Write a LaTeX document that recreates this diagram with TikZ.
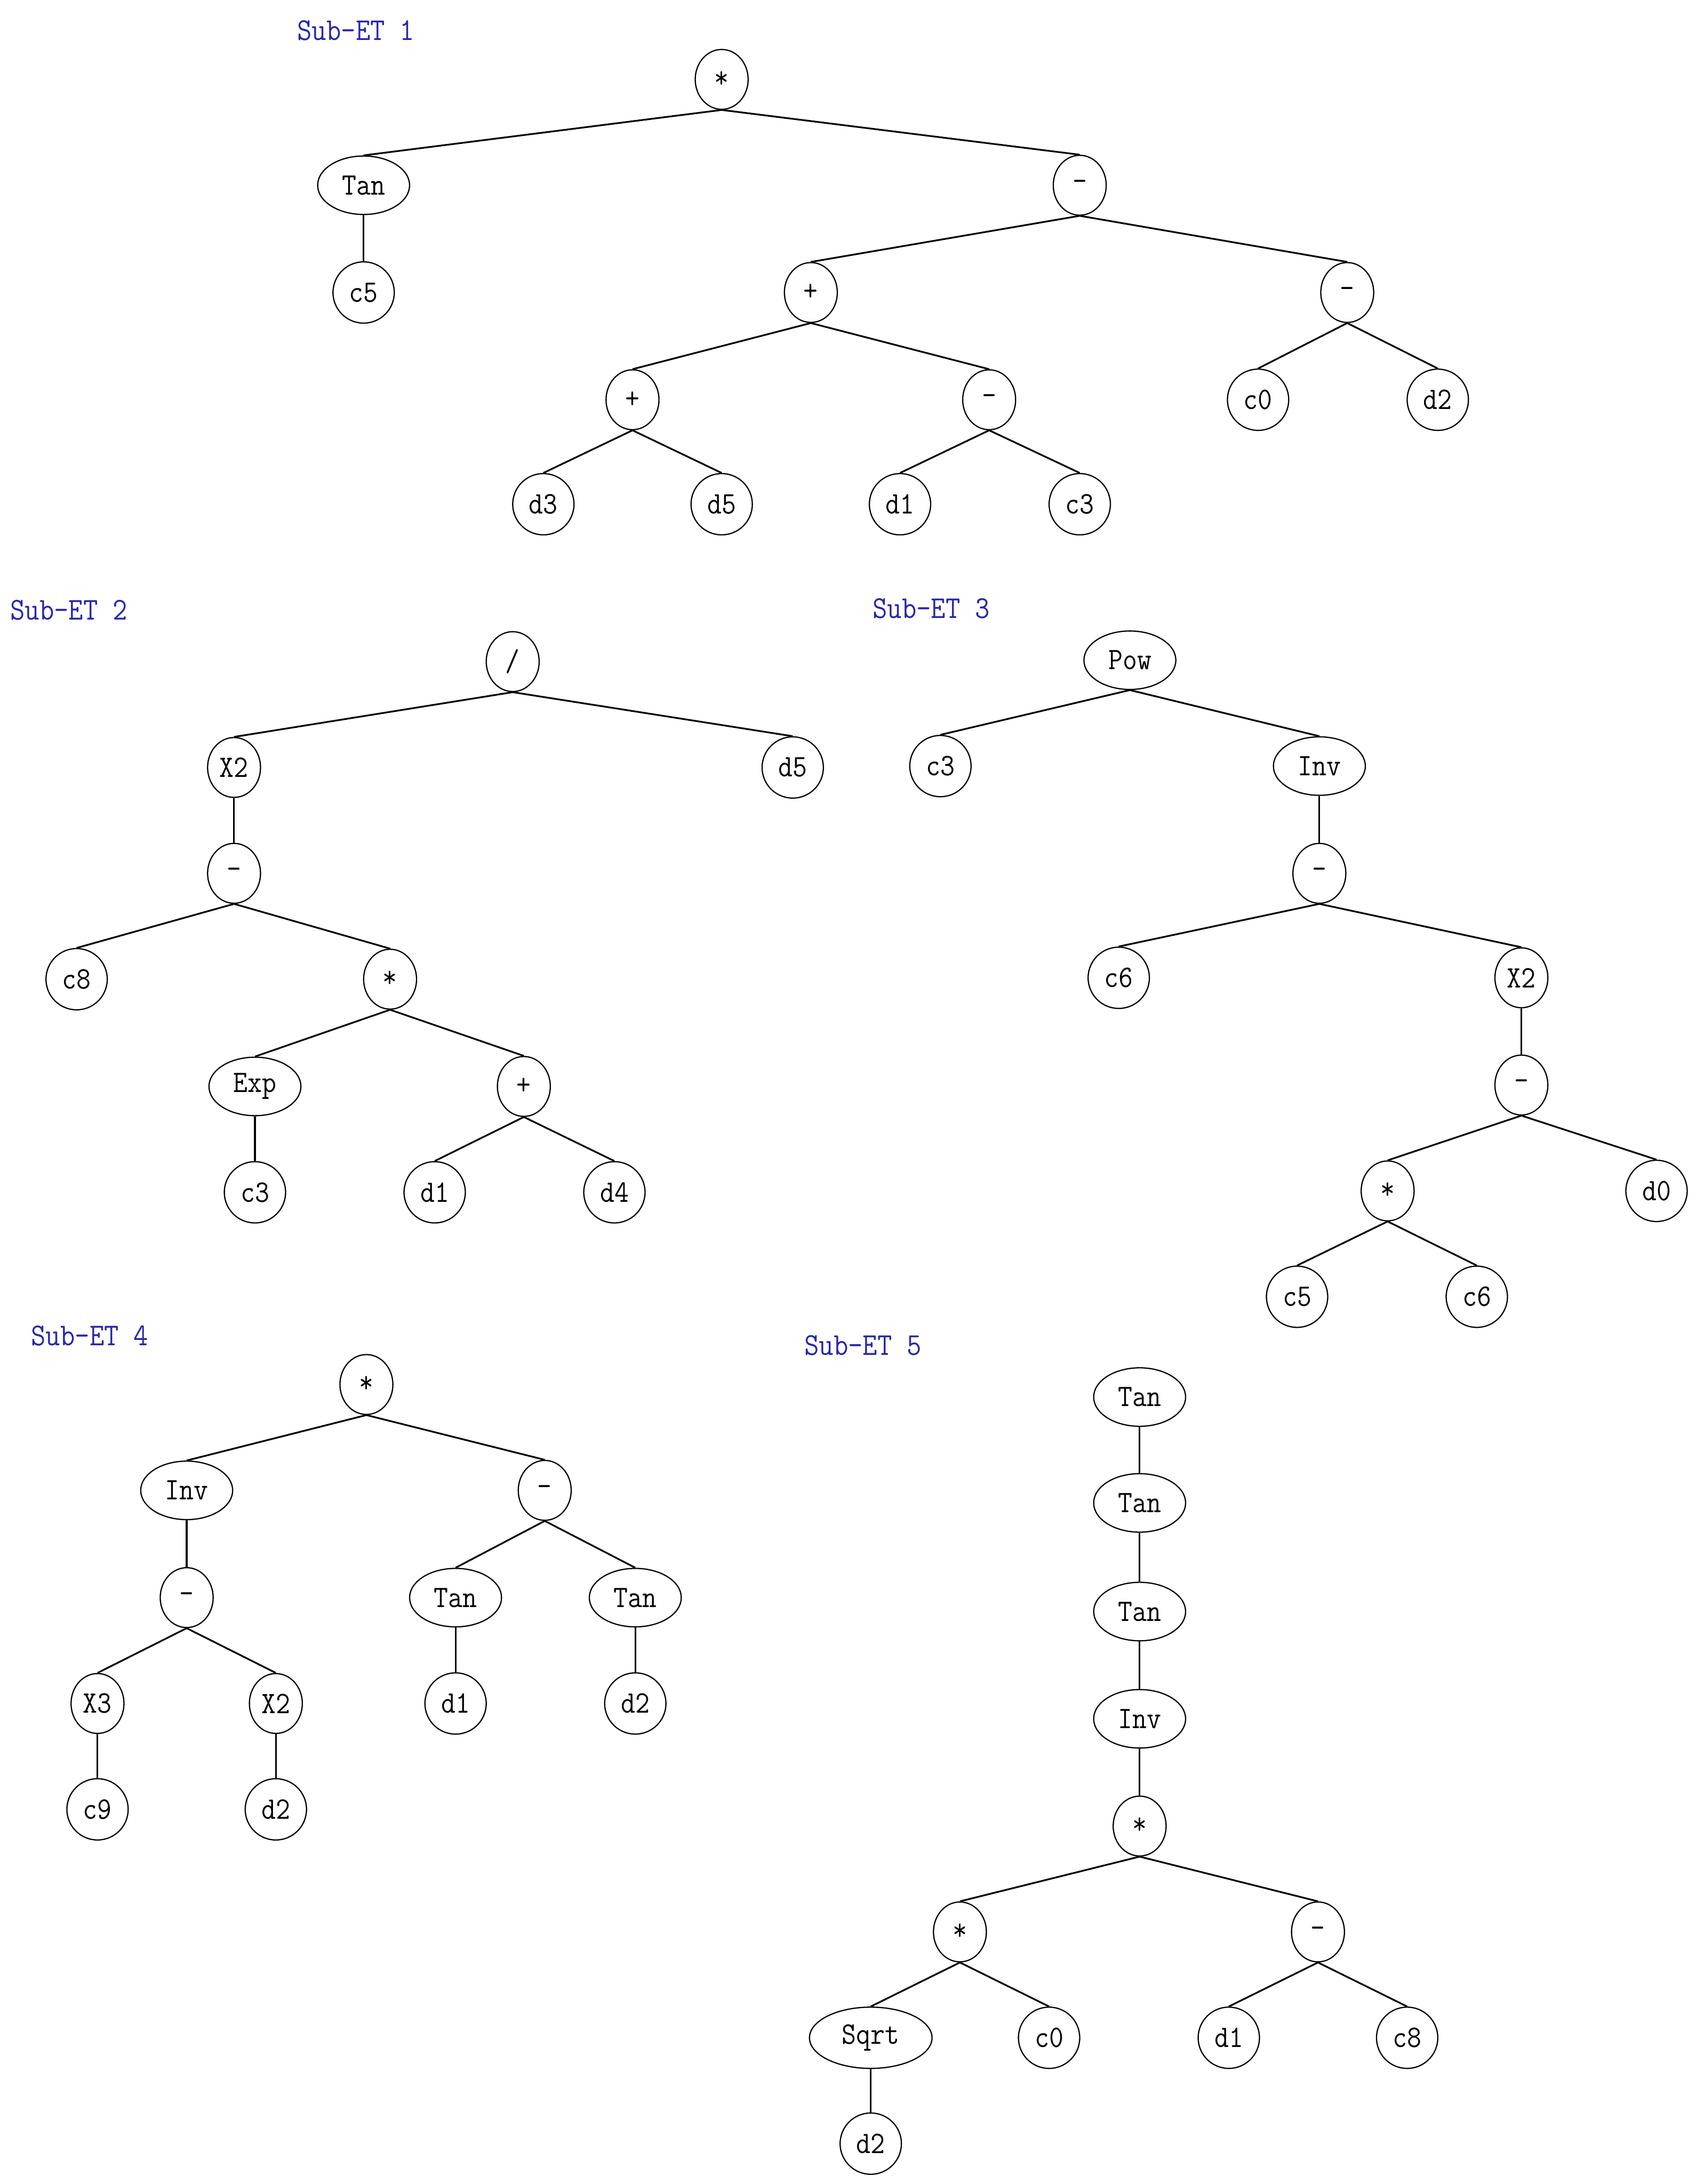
\documentclass[tikz,border=0pt]{standalone}
\usepackage{fontspec}
\usepackage{graphicx}
\usetikzlibrary{shapes.geometric}
\definecolor{labblue}{RGB}{40,40,170}
\newcommand{\vs}[1]{\scalebox{1}[1.12]{#1}}
\tikzset{
  base/.style={ellipse, draw, line width=0.5pt, inner sep=0pt, font=\ttfamily\fontsize{11.4}{13}\selectfont},
  leaf/.style={base, minimum width=0.88cm, minimum height=0.88cm},
  op/.style={base, minimum width=0.76cm, minimum height=0.86cm},
  fn/.style={base, minimum width=1.32cm, minimum height=0.84cm},
  wide/.style={base, minimum width=1.76cm, minimum height=0.88cm},
  edge/.style={line width=0.7pt},
  title/.style={anchor=west, inner sep=0pt, text=labblue, font=\ttfamily\fontsize{11.6}{13}\selectfont}
}
\begin{document}
\begin{tikzpicture}[x=0.02cm,y=-0.02cm]
\fill[white] (0,0) rectangle (1223,1568);
\useasboundingbox (0,0) rectangle (1223,1568);

% ---------- Sub-ET 1 ----------
\node[title] (L1) at (213,22) {\vs{Sub-ET 1}};
\node[op]   (a1)  at (518,57)  {\vs{*}};
\node[fn]   (a2)  at (261,133) {\vs{Tan}};
\node[op]   (a3)  at (775,133) {\vs{-}};
\node[leaf] (a4)  at (261,210) {\vs{c5}};
\node[op]   (a5)  at (582,210) {\vs{+}};
\node[op]   (a6)  at (967,210) {\vs{-}};
\node[op]   (a7)  at (454,287) {\vs{+}};
\node[op]   (a8)  at (710,287) {\vs{-}};
\node[leaf] (a9)  at (903,287) {\vs{c0}};
\node[leaf] (a10) at (1032,287) {\vs{d2}};
\node[leaf] (a11) at (390,362) {\vs{d3}};
\node[leaf] (a12) at (518,362) {\vs{d5}};
\node[leaf] (a13) at (646,362) {\vs{d1}};
\node[leaf] (a14) at (775,362) {\vs{c3}};
\draw[edge] (a1.south) -- (a2.north);
\draw[edge] (a1.south) -- (a3.north);
\draw[edge] (a2.south) -- (a4.north);
\draw[edge] (a3.south) -- (a5.north);
\draw[edge] (a3.south) -- (a6.north);
\draw[edge] (a5.south) -- (a7.north);
\draw[edge] (a5.south) -- (a8.north);
\draw[edge] (a6.south) -- (a9.north);
\draw[edge] (a6.south) -- (a10.north);
\draw[edge] (a7.south) -- (a11.north);
\draw[edge] (a7.south) -- (a12.north);
\draw[edge] (a8.south) -- (a13.north);
\draw[edge] (a8.south) -- (a14.north);

% ---------- Sub-ET 2 ----------
\node[title] (L2) at (7,438) {\vs{Sub-ET 2}};
\node[op]   (b1)  at (368,475) {\vs{/}};
\node[op]   (b2)  at (168,551) {\vs{X2}};
\node[leaf] (b3)  at (569,551) {\vs{d5}};
\node[op]   (b4)  at (168,627) {\vs{-}};
\node[leaf] (b5)  at (55,703)  {\vs{c8}};
\node[op]   (b6)  at (280,703) {\vs{*}};
\node[fn]   (b7)  at (183,780) {\vs{Exp}};
\node[op]   (b8)  at (376,780) {\vs{+}};
\node[leaf] (b9)  at (183,856) {\vs{c3}};
\node[leaf] (b10) at (312,856) {\vs{d1}};
\node[leaf] (b11) at (441,856) {\vs{d4}};
\draw[edge] (b1.south) -- (b2.north);
\draw[edge] (b1.south) -- (b3.north);
\draw[edge] (b2.south) -- (b4.north);
\draw[edge] (b4.south) -- (b5.north);
\draw[edge] (b4.south) -- (b6.north);
\draw[edge] (b6.south) -- (b7.north);
\draw[edge] (b6.south) -- (b8.north);
\draw[edge] (b7.south) -- (b9.north);
\draw[edge] (b8.south) -- (b10.north);
\draw[edge] (b8.south) -- (b11.north);

% ---------- Sub-ET 3 ----------
\node[title] (L3) at (626,437) {\vs{Sub-ET 3}};
\node[fn]   (c1)  at (811,474) {\vs{Pow}};
\node[leaf] (c2)  at (675,550) {\vs{c3}};
\node[fn]   (c3)  at (947,550) {\vs{Inv}};
\node[op]   (c4)  at (947,627) {\vs{-}};
\node[leaf] (c5)  at (803,702) {\vs{c6}};
\node[op]   (c6)  at (1092,702) {\vs{X2}};
\node[op]   (c7)  at (1092,779) {\vs{-}};
\node[op]   (c8)  at (996,855) {\vs{*}};
\node[leaf] (c9)  at (1189,855) {\vs{d0}};
\node[leaf] (c10) at (931,931) {\vs{c5}};
\node[leaf] (c11) at (1060,931) {\vs{c6}};
\draw[edge] (c1.south) -- (c2.north);
\draw[edge] (c1.south) -- (c3.north);
\draw[edge] (c3.south) -- (c4.north);
\draw[edge] (c4.south) -- (c5.north);
\draw[edge] (c4.south) -- (c6.north);
\draw[edge] (c6.south) -- (c7.north);
\draw[edge] (c7.south) -- (c8.north);
\draw[edge] (c7.south) -- (c9.north);
\draw[edge] (c8.south) -- (c10.north);
\draw[edge] (c8.south) -- (c11.north);

% ---------- Sub-ET 4 ----------
\node[title] (L4) at (22,959) {\vs{Sub-ET 4}};
\node[op]   (d1)  at (263,994)  {\vs{*}};
\node[fn]   (d2)  at (134,1070) {\vs{Inv}};
\node[op]   (d3)  at (391,1070) {\vs{-}};
\node[op]   (d4)  at (134,1147) {\vs{-}};
\node[fn]   (d5)  at (327,1147) {\vs{Tan}};
\node[fn]   (d6)  at (456,1147) {\vs{Tan}};
\node[op]   (d7)  at (70,1223)  {\vs{X3}};
\node[op]   (d8)  at (198,1223) {\vs{X2}};
\node[leaf] (d9)  at (327,1223) {\vs{d1}};
\node[leaf] (d10) at (456,1223) {\vs{d2}};
\node[leaf] (d11) at (70,1299)  {\vs{c9}};
\node[leaf] (d12) at (198,1299) {\vs{d2}};
\draw[edge] (d1.south) -- (d2.north);
\draw[edge] (d1.south) -- (d3.north);
\draw[edge] (d2.south) -- (d4.north);
\draw[edge] (d3.south) -- (d5.north);
\draw[edge] (d3.south) -- (d6.north);
\draw[edge] (d4.south) -- (d7.north);
\draw[edge] (d4.south) -- (d8.north);
\draw[edge] (d5.south) -- (d9.north);
\draw[edge] (d6.south) -- (d10.north);
\draw[edge] (d7.south) -- (d11.north);
\draw[edge] (d8.south) -- (d12.north);

% ---------- Sub-ET 5 ----------
\node[title] (L5) at (577,966) {\vs{Sub-ET 5}};
\node[fn]   (e1)  at (818,1003) {\vs{Tan}};
\node[fn]   (e2)  at (818,1079) {\vs{Tan}};
\node[fn]   (e3)  at (818,1157) {\vs{Tan}};
\node[fn]   (e4)  at (818,1234) {\vs{Inv}};
\node[op]   (e5)  at (818,1311) {\vs{*}};
\node[op]   (e6)  at (689,1387) {\vs{*}};
\node[op]   (e7)  at (946,1387) {\vs{-}};
\node[wide] (e8)  at (625,1463) {\vs{Sqrt}};
\node[leaf] (e9)  at (753,1463) {\vs{c0}};
\node[leaf] (e10) at (882,1463) {\vs{d1}};
\node[leaf] (e11) at (1010,1463) {\vs{c8}};
\node[leaf] (e12) at (625,1539) {\vs{d2}};
\draw[edge] (e1.south) -- (e2.north);
\draw[edge] (e2.south) -- (e3.north);
\draw[edge] (e3.south) -- (e4.north);
\draw[edge] (e4.south) -- (e5.north);
\draw[edge] (e5.south) -- (e6.north);
\draw[edge] (e5.south) -- (e7.north);
\draw[edge] (e6.south) -- (e8.north);
\draw[edge] (e6.south) -- (e9.north);
\draw[edge] (e7.south) -- (e10.north);
\draw[edge] (e7.south) -- (e11.north);
\draw[edge] (e8.south) -- (e12.north);
\end{tikzpicture}
\end{document}
